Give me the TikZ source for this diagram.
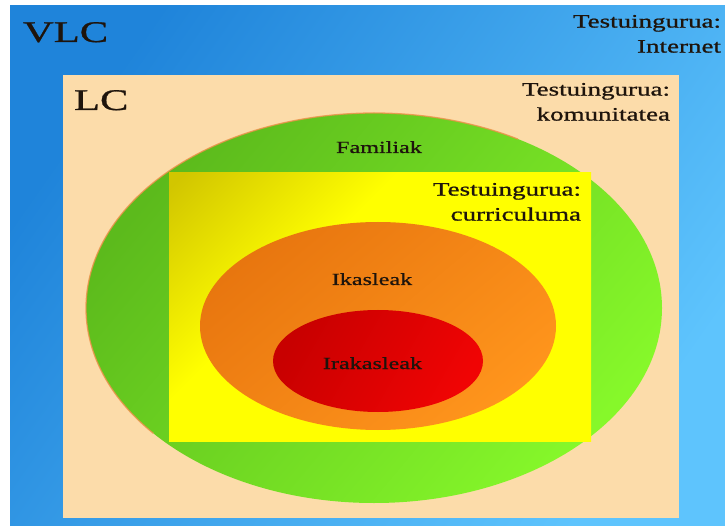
\documentclass[tikz,border=0pt]{standalone}
\usepackage{fontspec}
\setmainfont{Liberation Serif}[FakeStretch=1.42,FakeBold=0.9]
\usetikzlibrary{shapes.geometric}
\definecolor{blueA}{HTML}{1F84DA}
\definecolor{blueB}{HTML}{5EC4FD}
\definecolor{peach}{HTML}{FCDCAA}
\definecolor{greenA}{HTML}{5CBA1C}
\definecolor{greenB}{HTML}{86F82A}
\definecolor{yellowA}{HTML}{D2C600}
\definecolor{yellowB}{HTML}{FFFF00}
\definecolor{orangeA}{HTML}{E8760F}
\definecolor{orangeB}{HTML}{FF951C}
\definecolor{redA}{HTML}{C80000}
\definecolor{redB}{HTML}{F00404}
\definecolor{txt}{HTML}{1E140C}
\definecolor{glow}{HTML}{F0904A}
\pgfdeclarehorizontalshading{yellowcorner}{100bp}{color(0bp)=(yellowA); color(16bp)=(yellowA); color(38bp)=(yellowB); color(100bp)=(yellowB)}
\begin{document}
\begin{tikzpicture}[x=1pt,y=-1pt,
  region/.style={inner sep=0pt, outer sep=0pt},
  lbl/.style={text=txt, inner sep=0pt, outer sep=0pt},
  big/.style={lbl, font=\fontsize{30}{34}\selectfont},
  ctx/.style={lbl, align=right, anchor=north east, font=\fontsize{19}{25}\selectfont},
  inner/.style={lbl, anchor=base, font=\fontsize{17}{20}\selectfont}]
\useasboundingbox (0,0) rectangle (725,526);
\fill[white] (0,0) rectangle (725,526);
% regions
\node[region, rectangle, minimum width=715pt, minimum height=520pt,
      top color=blueA, bottom color=blueB, shading angle=55] (vlcbox) at (367.5,266) {};
\node[region, rectangle, minimum width=616pt, minimum height=443pt, fill=peach] (lcbox) at (371,296.5) {};
\node[region, ellipse, minimum width=576pt, minimum height=390pt,
      top color=greenA, bottom color=greenB, shading angle=50] (fam) at (374,308) {};
\draw[glow, line width=1.3pt, opacity=0.8]
  (fam.center) ++(140:288 and 195) arc[start angle=140, end angle=300, x radius=288, y radius=195];
\node[region, rectangle, minimum width=422pt, minimum height=268pt,
      shading=yellowcorner, shading angle=-45] (cur) at (380,307) {};
\node[region, ellipse, minimum width=356pt, minimum height=208pt,
      top color=orangeA, bottom color=orangeB, shading angle=40] (ika) at (378,326) {};
\node[region, ellipse, minimum width=210pt, minimum height=102pt,
      top color=redA, bottom color=redB, shading angle=60] (ira) at (378,361) {};
% labels
\node[big, anchor=base west] (vlc) at (23,42) {VLC};
\node[big, anchor=base west] (lc) at (74,110) {LC};
\node[ctx] (tinternet) at (721,15) {Testuingurua:\\Internet};
\node[ctx] (tkomun) at (670,83) {Testuingurua:\\komunitatea};
\node[ctx] (tcurr) at (581,183) {Testuingurua:\\curriculuma};
\node[inner] (lfam) at (379,153) {Familiak};
\node[inner] (lika) at (372,285) {Ikasleak};
\node[inner] (lira) at (372.5,369) {Irakasleak};
\end{tikzpicture}
\end{document}
